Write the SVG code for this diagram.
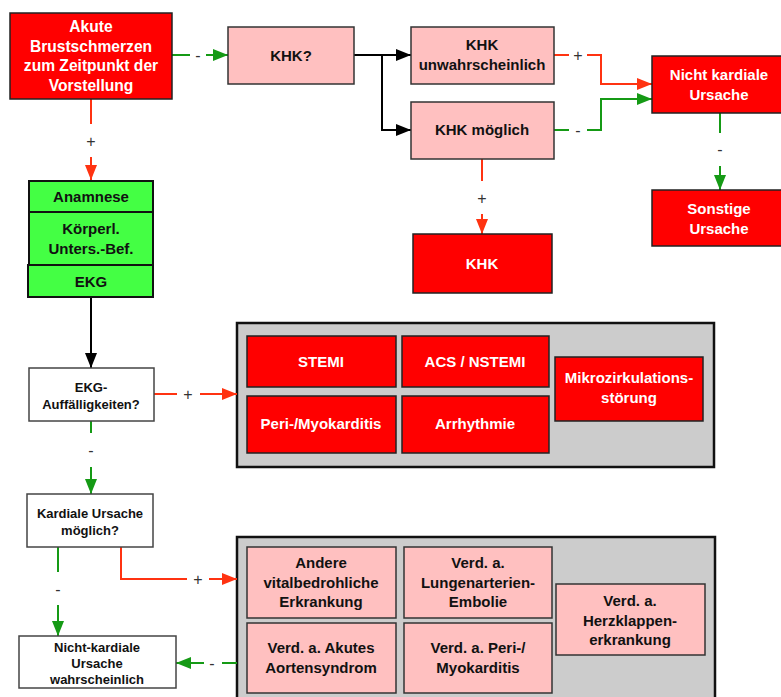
<svg xmlns="http://www.w3.org/2000/svg" width="781" height="697" viewBox="0 0 781 697">
<defs>
<style>
.t{font-family:"Liberation Sans",Arial,sans-serif;font-weight:bold;font-size:15px;text-anchor:middle}
.s{font-size:13px}
.b{font-size:15.6px}
.w{fill:#ffffff}
.k{fill:#111111}
.red{fill:#ff0000;stroke:#222;stroke-width:1.5}
.pink{fill:#ffc0c0;stroke:#333;stroke-width:1.5}
.grn{fill:#44ff44;stroke:#111;stroke-width:2}
.wht{fill:#ffffff;stroke:#444;stroke-width:1.5}
.cont{fill:#cccccc;stroke:#111;stroke-width:2.5}
.c{fill:none;stroke-width:2}
.cr{stroke:#ff3311}
.cg{stroke:#159a15}
.cb{stroke:#000}
.lbl{font-family:"Liberation Sans",Arial,sans-serif;font-size:16px;fill:#333;text-anchor:middle}
</style>
<marker id="ar" viewBox="0 0 15 12" refX="15" refY="6" markerWidth="15" markerHeight="12" markerUnits="userSpaceOnUse" orient="auto"><path d="M0,0 L15,6 L0,12 z" fill="#ff3311"/></marker>
<marker id="ag" viewBox="0 0 15 12" refX="15" refY="6" markerWidth="15" markerHeight="12" markerUnits="userSpaceOnUse" orient="auto"><path d="M0,0 L15,6 L0,12 z" fill="#159a15"/></marker>
<marker id="ab" viewBox="0 0 15 12" refX="15" refY="6" markerWidth="15" markerHeight="12" markerUnits="userSpaceOnUse" orient="auto"><path d="M0,0 L15,6 L0,12 z" fill="#000"/></marker>
</defs>
<rect width="781" height="697" fill="#ffffff"/>

<g id="container1"><rect class="cont" x="237" y="323" width="477" height="144"/></g>
<g id="container2"><rect class="cont" x="237" y="537" width="478" height="170"/></g>

<g id="connectors">
<path class="c cg" d="M172,55 L190,55 M206,55 L228,55" marker-end="url(#ag)"/>
<text class="lbl" x="198" y="61">-</text>
<path class="c cr" d="M91,99 L91,124 M91,157 L91,180" marker-end="url(#ar)"/>
<text class="lbl" x="91" y="147">+</text>
<path class="c cb" d="M354,55 L411,55" marker-end="url(#ab)"/>
<path class="c cb" d="M382,55 L382,130 L411,130" marker-end="url(#ab)"/>
<path class="c cr" d="M554,55 L569,55 M587,55 L601,55 L601,84 L652,84" marker-end="url(#ar)"/>
<text class="lbl" x="578" y="61">+</text>
<path class="c cg" d="M554,130 L569,130 M587,130 L601,130 L601,99 L652,99" marker-end="url(#ag)"/>
<text class="lbl" x="578" y="136">-</text>
<path class="c cg" d="M720,113 L720,133 M720,166 L720,190" marker-end="url(#ag)"/>
<text class="lbl" x="720" y="155">-</text>
<path class="c cr" d="M482,159 L482,181 M482,214 L482,234" marker-end="url(#ar)"/>
<text class="lbl" x="482" y="204">+</text>
<path class="c cb" d="M91,297 L91,368" marker-end="url(#ab)"/>
<path class="c cr" d="M154,394 L177,394 M200,394 L237,394" marker-end="url(#ar)"/>
<text class="lbl" x="188" y="400">+</text>
<path class="c cg" d="M91,421 L91,433 M91,467 L91,494" marker-end="url(#ag)"/>
<text class="lbl" x="91" y="456">-</text>
<path class="c cg" d="M58,547 L58,572 M58,605 L58,636" marker-end="url(#ag)"/>
<text class="lbl" x="58" y="595">-</text>
<path class="c cr" d="M121,547 L121,579 L187,579 M209,579 L237,579" marker-end="url(#ar)"/>
<text class="lbl" x="198" y="585">+</text>
<path class="c cg" d="M237,663 L222,663 M204,663 L176,663" marker-end="url(#ag)"/>
<text class="lbl" x="212" y="669">-</text>
</g>

<g id="akute"><rect class="red" x="10" y="13" width="162" height="86"/>
<text class="t b w" x="91" y="32">Akute</text><text class="t b w" x="91" y="52">Brustschmerzen</text><text class="t b w" x="91" y="71">zum Zeitpunkt der</text><text class="t b w" x="91" y="91">Vorstellung</text></g>

<g id="khkq"><rect class="pink" x="228" y="27" width="126" height="57"/><text class="t k" x="291" y="61">KHK?</text></g>
<g id="khk-unw"><rect class="pink" x="411" y="27" width="143" height="57"/><text class="t k" x="482" y="50">KHK</text><text class="t k" x="482" y="70">unwahrscheinlich</text></g>
<g id="khk-mog"><rect class="pink" x="411" y="102" width="143" height="57"/><text class="t k" x="482" y="135">KHK möglich</text></g>
<g id="nicht-kardial"><rect class="red" x="652" y="56" width="136" height="57"/><text class="t w" x="719" y="80">Nicht kardiale</text><text class="t w" x="719" y="100">Ursache</text></g>
<g id="sonstige"><rect class="red" x="652" y="190" width="136" height="56"/><text class="t w" x="719" y="214">Sonstige</text><text class="t w" x="719" y="234">Ursache</text></g>
<g id="khk"><rect class="red" x="413" y="234" width="139" height="59"/><text class="t w" x="482" y="269">KHK</text></g>

<g id="anamnese"><rect class="grn" x="29" y="181" width="124" height="31"/><text class="t k" x="91" y="202">Anamnese</text></g>
<g id="koerper"><rect class="grn" x="29" y="212" width="124" height="53"/><text class="t k" x="91" y="234">Körperl.</text><text class="t k" x="91" y="254">Unters.-Bef.</text></g>
<g id="ekg"><rect class="grn" x="28" y="265" width="125" height="32"/><text class="t k" x="91" y="287">EKG</text></g>

<g id="ekg-auff"><rect class="wht" x="29" y="368" width="125" height="53"/><text class="t s k" x="91" y="391.5">EKG-</text><text class="t s k" x="91" y="408.5">Auffälligkeiten?</text></g>
<g id="kardial-mog"><rect class="wht" x="27" y="494" width="126" height="53"/><text class="t s k" x="90" y="517.5">Kardiale Ursache</text><text class="t s k" x="90" y="534.5">möglich?</text></g>
<g id="nicht-kardial-wahr"><rect class="wht" x="19" y="636" width="157" height="52"/><text class="t s k" x="97" y="651.5">Nicht-kardiale</text><text class="t s k" x="97" y="667.5">Ursache</text><text class="t s k" x="97" y="683.5">wahrscheinlich</text></g>

<g id="stemi"><rect class="red" x="247" y="336" width="149" height="51"/><text class="t w" x="321" y="367">STEMI</text></g>
<g id="acs"><rect class="red" x="402" y="336" width="147" height="51"/><text class="t w" x="475" y="367">ACS / NSTEMI</text></g>
<g id="peri"><rect class="red" x="247" y="396" width="149" height="57"/><text class="t w" x="321" y="429">Peri-/Myokarditis</text></g>
<g id="arrhythmie"><rect class="red" x="402" y="396" width="147" height="57"/><text class="t w" x="475" y="429">Arrhythmie</text></g>
<g id="mikro"><rect class="red" x="555" y="357" width="148" height="64"/><text class="t w" x="629" y="383">Mikrozirkulations-</text><text class="t w" x="629" y="403">störung</text></g>

<g id="andere"><rect class="pink" x="247" y="547" width="149" height="71"/><text class="t k" x="321" y="568">Andere</text><text class="t k" x="321" y="588">vitalbedrohliche</text><text class="t k" x="321" y="607">Erkrankung</text></g>
<g id="lae"><rect class="pink" x="404" y="547" width="148" height="71"/><text class="t k" x="478" y="568">Verd. a.</text><text class="t k" x="478" y="588">Lungenarterien-</text><text class="t k" x="478" y="607">Embolie</text></g>
<g id="aorta"><rect class="pink" x="247" y="623" width="149" height="70"/><text class="t k" x="321" y="653">Verd. a. Akutes</text><text class="t k" x="321" y="673">Aortensyndrom</text></g>
<g id="peri2"><rect class="pink" x="404" y="623" width="148" height="70"/><text class="t k" x="478" y="653">Verd. a. Peri-/</text><text class="t k" x="478" y="673">Myokarditis</text></g>
<g id="herz"><rect class="pink" x="556" y="584" width="149" height="71"/><text class="t k" x="630" y="606">Verd. a.</text><text class="t k" x="630" y="626">Herzklappen-</text><text class="t k" x="630" y="645">erkrankung</text></g>
</svg>
